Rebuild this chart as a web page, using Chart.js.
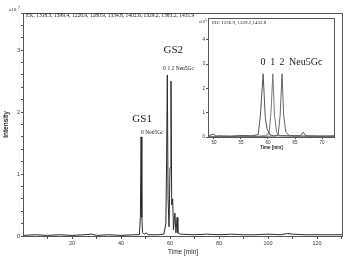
<!DOCTYPE html>
<html>
<head>
<meta charset="utf-8">
<script src="https://cdn.jsdelivr.net/npm/chart.js@4.4.1/dist/chart.umd.min.js"></script>
<style>
body{margin:0;background:#fff;}
#wrap{position:relative;width:350px;height:262px;}
#main{position:absolute;left:0;top:0;}
#inset{position:absolute;left:190px;top:14px;}
</style>
</head>
<body>
<div id="wrap">
<canvas id="main" width="350" height="262"></canvas>
<canvas id="inset" width="152" height="141"></canvas>
</div>
<script>
// main chromatogram (time in min, intensity x10^7)
var mainTime = [0, 5, 10, 15, 20, 25, 28, 30, 35, 40, 45, 47.5, 47.9, 48.2, 48.5, 48.8, 49.5, 50.3, 51, 55, 57.5, 58.3, 58.6, 58.9, 59.2, 59.6, 60.0, 60.4, 60.7, 61.1, 61.4, 62.0, 62.4, 62.9, 63.2, 64, 70, 75, 80, 85, 90, 95, 100, 105, 108, 110, 115, 120, 125, 130.6];
var mainIntensity = [0.01, 0.02, 0.01, 0.02, 0.01, 0.02, 0.03, 0.01, 0.02, 0.01, 0.02, 0.02, 0.3, 1.6, 0.3, 0.06, 0.03, 0.05, 0.02, 0.02, 0.03, 0.2, 1.2, 2.6, 0.6, 0.15, 1.1, 2.5, 0.5, 0.6, 0.1, 0.37, 0.05, 0.3, 0.05, 0.03, 0.02, 0.03, 0.02, 0.03, 0.02, 0.02, 0.03, 0.02, 0.04, 0.03, 0.02, 0.02, 0.02, 0.02];
var mainXTicks = [10, 20, 30, 40, 50, 60, 70, 80, 90, 100, 110, 120, 130];
var mainXLabels = [20, 40, 60, 80, 100, 120];
var mainYLabels = [0, 1, 2, 3];

// inset EIC, three traces (0, 1, 2 Neu5Gc), intensity x10^5
var insetTime0 = [48.9, 50, 50.3, 51, 53, 55, 57, 58.2, 58.6, 59.1, 59.5, 59.8, 60.3, 61, 63, 66, 66.5, 67, 70, 72.4];
var insetInt0 = [0.05, 0.12, 0.04, 0.05, 0.03, 0.06, 0.05, 0.1, 0.9, 2.6, 0.8, 0.35, 0.1, 0.05, 0.05, 0.05, 0.2, 0.05, 0.04, 0.05];
var insetTime1 = [48.9, 52, 55, 58, 59.5, 60.2, 60.55, 60.9, 61.2, 61.6, 62.2, 66, 72.4];
var insetInt1 = [0.02, 0.03, 0.03, 0.03, 0.05, 0.15, 1.0, 2.6, 0.9, 0.2, 0.05, 0.03, 0.02];
var insetTime2 = [48.9, 52, 55, 58, 61.4, 61.9, 62.25, 62.6, 62.9, 63.3, 64, 68, 72.4];
var insetInt2 = [0.02, 0.02, 0.03, 0.02, 0.04, 0.12, 0.9, 2.6, 0.9, 0.2, 0.05, 0.03, 0.02];
var insetXLabels = [50, 55, 60, 65, 70];
var insetYLabels = [0, 1, 2, 3, 4];

var serif = '"Liberation Serif", "DejaVu Serif", serif';
var sans = '"Liberation Sans", Arial, sans-serif';

function pts(t, v){
  var out = [];
  for (var i = 0; i < t.length; i++) out.push({x: t[i], y: v[i]});
  return out;
}
function isLabel(list, v){
  for (var i = 0; i < list.length; i++) if (Math.abs(list[i] - v) < 1e-6) return true;
  return false;
}
function fixTicks(list){
  return function(s){ s.ticks = list.map(function(v){ return {value: v}; }); };
}

var mainText = {
  id: 'mainText',
  afterDraw: function(chart){
    var c = chart.ctx, a = chart.chartArea, x = chart.scales.x, y = chart.scales.y;
    c.save();
    c.strokeStyle = '#555';
    c.lineWidth = 1;
    c.strokeRect(a.left + 0.5, a.top + 0.5, a.right - a.left - 1, a.bottom - a.top);
    c.fillStyle = '#222';
    c.textBaseline = 'middle';
    c.textAlign = 'left';
    c.font = '5.5px ' + serif;
    c.fillText('EIC 1318.3, 1399.4, 1226.9, 1280.9, 1334.8, 1402.6, 1329.2, 1383.2, 1431.9', a.left + 3, a.top + 3);
    c.font = 'italic 5px ' + serif;
    c.fillText('x10', a.left - 14, a.top - 3);
    c.font = '4px ' + serif;
    c.fillText('7', a.left - 5, a.top - 5);

    // peak labels
    var gx = x.getPixelForValue(48.2), gy = y.getPixelForValue(1.6);
    c.textAlign = 'center';
    c.font = '11px ' + serif;
    c.fillText('GS1', gx + 1, gy - 18);
    c.textAlign = 'left';
    c.font = '5.5px ' + serif;
    c.fillText('0 Neu5Gc', gx, gy - 4);

    var hx = x.getPixelForValue(58.9), hy = y.getPixelForValue(2.6);
    c.textAlign = 'center';
    c.font = '11px ' + serif;
    c.fillText('GS2', hx + 6, hy - 25);
    c.textAlign = 'left';
    c.font = '5.5px ' + serif;
    c.fillText('0 1 2 Neu5Gc', hx - 4, hy - 6);
    c.restore();
  }
};

var insetText = {
  id: 'insetText',
  afterDraw: function(chart){
    var c = chart.ctx, a = chart.chartArea, x = chart.scales.x, y = chart.scales.y;
    c.save();
    c.strokeStyle = '#555';
    c.lineWidth = 1;
    c.strokeRect(a.left + 0.5, a.top + 0.5, a.right - a.left - 1, a.bottom - a.top);
    c.fillStyle = '#222';
    c.textBaseline = 'middle';
    c.textAlign = 'left';
    c.font = '5px ' + serif;
    c.fillText('EIC 1226.9, 1329.2,1432.8', a.left + 4, a.top + 5);
    c.font = 'italic 4px ' + serif;
    c.fillText('x10', a.left - 9, a.top + 4);
    c.font = '3.5px ' + serif;
    c.fillText('5', a.left - 3, a.top + 2);

    var peaks = [59.1, 60.9, 62.6];
    var names = ['0', '1', '2'];
    var py = y.getPixelForValue(2.6) - 11;
    c.textAlign = 'center';
    c.font = '10px ' + serif;
    for (var i = 0; i < peaks.length; i++) {
      c.fillText(names[i], x.getPixelForValue(peaks[i]), py);
    }
    c.textAlign = 'left';
    c.fillText('Neu5Gc', x.getPixelForValue(peaks[2]) + 7, py);
    c.restore();
  }
};

var mainChart = new Chart(document.getElementById('main').getContext('2d'), {
  type: 'line',
  data: {
    datasets: [{
      data: pts(mainTime, mainIntensity),
      borderColor: '#2a2a2a',
      borderWidth: 1,
      pointRadius: 0,
      tension: 0
    }]
  },
  options: {
    responsive: false,
    animation: false,
    layout: {padding: {top: 13, right: 7, left: 0, bottom: 0}},
    plugins: {legend: {display: false}, tooltip: {enabled: false}},
    scales: {
      x: {
        type: 'linear', min: 0, max: 130.6,
        afterFit: function(s){ s.height = 26; },
        afterBuildTicks: fixTicks(mainXTicks),
        border: {display: false},
        grid: {drawOnChartArea: false, tickLength: 3, color: '#555'},
        ticks: {
          autoSkip: false, maxRotation: 0, padding: 1,
          color: '#333', font: {size: 5.5, family: sans},
          callback: function(v){ return isLabel(mainXLabels, v) ? String(v) : ''; }
        },
        title: {display: true, text: 'Time [min]', color: '#222', font: {size: 6.5, family: sans}, padding: {top: 0, bottom: 6}}
      },
      y: {
        type: 'linear', min: 0, max: 3.6,
        afterFit: function(s){ s.width = 23; },
        border: {display: false},
        grid: {drawOnChartArea: false, tickLength: 2, color: '#555'},
        ticks: {
          stepSize: 0.2, autoSkip: false, padding: 1,
          color: '#333', font: {size: 5.5, family: sans},
          callback: function(v){ return isLabel(mainYLabels, v) ? String(Math.round(v)) : ''; }
        },
        title: {display: true, text: 'Intensity', color: '#222', font: {size: 6.5, family: sans, weight: 'bold'}, padding: {top: 2, bottom: 0}}
      }
    }
  },
  plugins: [mainText]
});

var insetChart = new Chart(document.getElementById('inset').getContext('2d'), {
  type: 'line',
  data: {
    datasets: [{
      data: pts(insetTime0, insetInt0),
      borderColor: '#555',
      borderWidth: 1,
      pointRadius: 0,
      tension: 0
    }, {
      data: pts(insetTime1, insetInt1),
      borderColor: '#777',
      borderWidth: 1,
      pointRadius: 0,
      tension: 0
    }, {
      data: pts(insetTime2, insetInt2),
      borderColor: '#666',
      borderWidth: 1,
      pointRadius: 0,
      tension: 0
    }]
  },
  options: {
    responsive: false,
    animation: false,
    layout: {padding: {top: 4, right: 7, left: 0, bottom: 0}},
    plugins: {legend: {display: false}, tooltip: {enabled: false}},
    scales: {
      x: {
        type: 'linear', min: 48.9, max: 72.4,
        afterFit: function(s){ s.height = 18; },
        afterBuildTicks: fixTicks(insetXLabels),
        border: {display: false},
        grid: {drawOnChartArea: false, tickLength: 2, color: '#555'},
        ticks: {
          autoSkip: false, maxRotation: 0, padding: 1,
          color: '#333', font: {size: 4.5, family: sans}
        },
        title: {display: true, text: 'Time [min]', color: '#222', font: {size: 4.5, family: sans, weight: 'bold'}, padding: {top: 0, bottom: 5}}
      },
      y: {
        type: 'linear', min: 0, max: 4.9,
        afterFit: function(s){ s.width = 18; },
        afterBuildTicks: fixTicks(insetYLabels),
        border: {display: false},
        grid: {drawOnChartArea: false, tickLength: 2, color: '#555'},
        ticks: {
          autoSkip: false, padding: 1,
          color: '#333', font: {size: 4.5, family: sans}
        }
      }
    }
  },
  plugins: [insetText]
});
</script>
</body>
</html>
